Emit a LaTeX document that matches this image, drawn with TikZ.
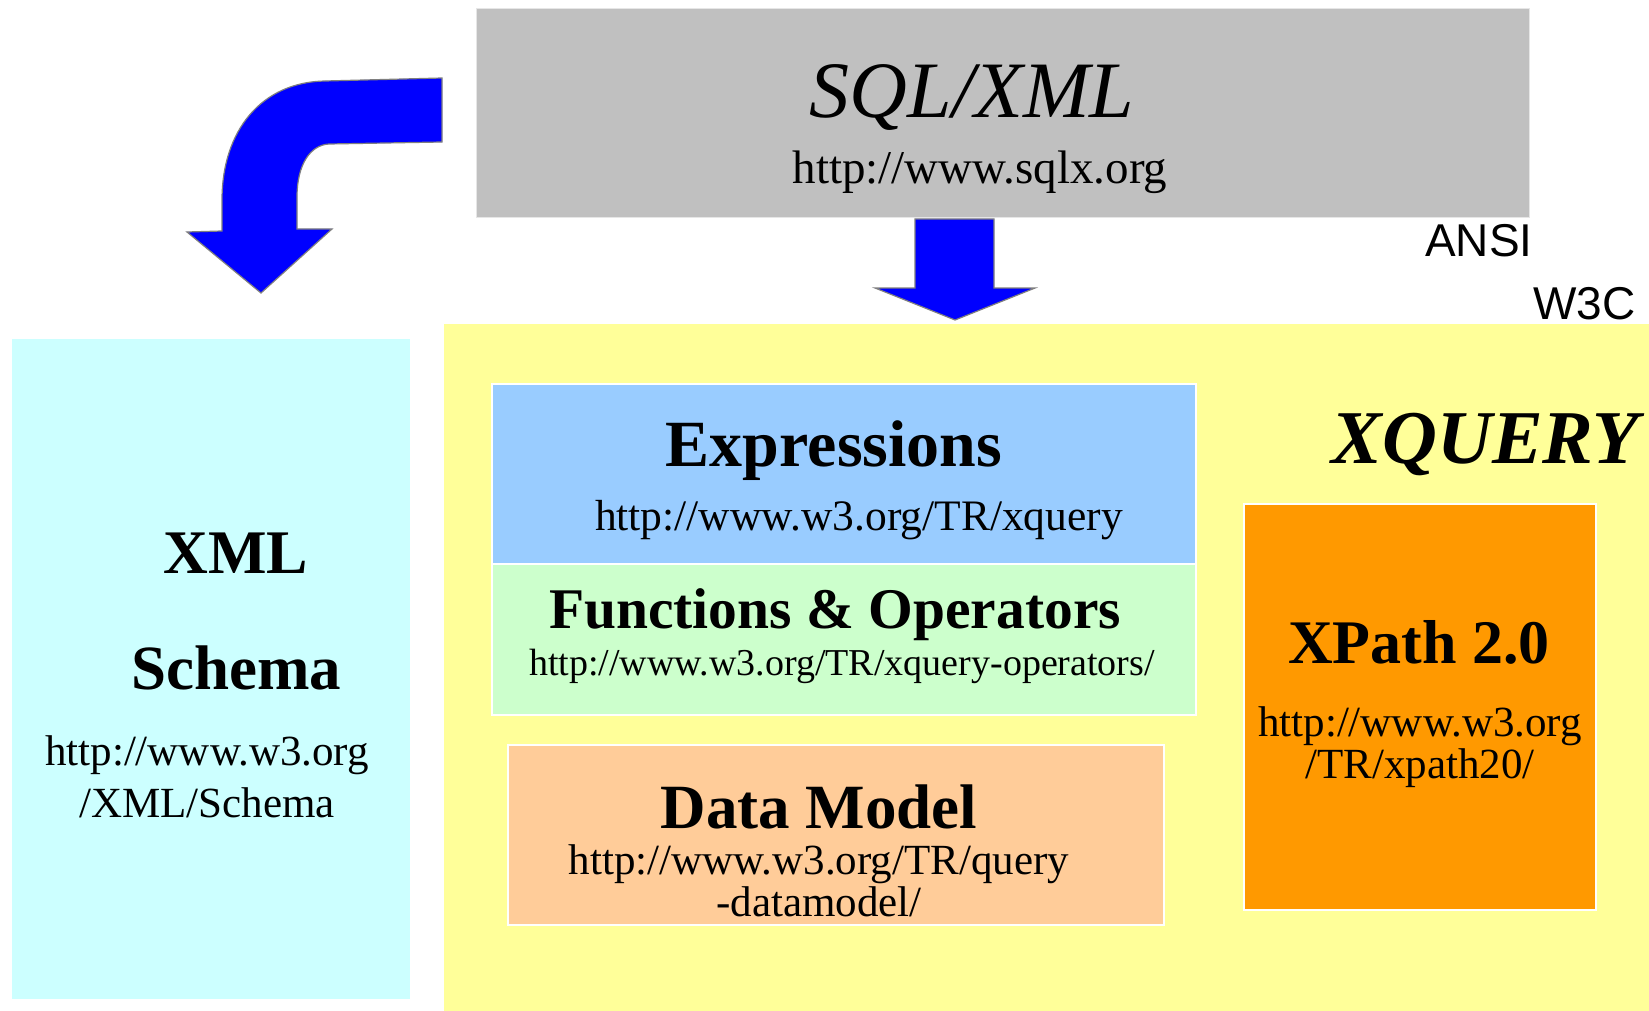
\documentclass[tikz,border=0pt]{standalone}
\usepackage{fontspec}
\setmainfont{Liberation Serif}
\newfontfamily\sansf{Liberation Sans}
\definecolor{arrblue}{HTML}{0000FF}
\definecolor{arredge}{HTML}{7F7F7F}
\definecolor{sqlgray}{HTML}{C0C0C0}
\definecolor{sqledge}{HTML}{E6E6E6}
\definecolor{cyanbg}{HTML}{CCFFFF}
\definecolor{yellowbg}{HTML}{FFFF99}
\definecolor{exprblue}{HTML}{99CCFF}
\definecolor{funcgreen}{HTML}{CCFFCC}
\definecolor{dmorange}{HTML}{FFCC99}
\definecolor{xporange}{HTML}{FF9900}
\tikzset{
  panel/.style={draw=white, line width=1.5pt, inner sep=0pt, anchor=north west},
  plainpanel/.style={draw=none, inner sep=0pt, anchor=north west},
  blockarrow/.style={fill=arrblue, draw=arredge, line width=1.2pt, line join=miter},
  txt/.style={anchor=base, inner sep=0pt, text=black},
  ttl/.style={txt, font=\fontsize{#1}{#1}\selectfont\bfseries},
  url/.style={txt, font=\fontsize{#1}{#1}\selectfont},
  lbl/.style={anchor=base west, inner sep=0pt, font=\fontsize{46}{46}\selectfont\sansf}
}
\begin{document}
\begin{tikzpicture}[x=1pt,y=-1pt]
\path[use as bounding box, fill=white] (0,0) rectangle (1649,1011);

% SQL/XML box
\node[plainpanel, draw=sqledge, line width=1pt, fill=sqlgray, minimum width=1053pt, minimum height=209pt] (sql) at (476,8) {};
\node[txt, font=\fontsize{80}{80}\selectfont\itshape] (sqlt) at (972,118) {SQL/XML};
\node[url=47] (sqlu) at (980,184) {http://www.sqlx.org};

% standards labels
\node[lbl] (ansi) at (1425,256) {ANSI};
\node[lbl] (w3c) at (1533,319) {W3C};

% XML Schema box
\node[plainpanel, fill=cyanbg, minimum width=398pt, minimum height=660pt] (xsd) at (12,339) {};
\node[ttl=62] (xsdt1) at (236,573) {XML};
\node[ttl=63] (xsdt2) at (236,689) {Schema};
\node[url=43] (xsdu1) at (207,765) {http://www.w3.org};
\node[url=43] (xsdu2) at (207,817) {/XML/Schema};

% XQuery area
\node[plainpanel, fill=yellowbg, minimum width=1205pt, minimum height=687pt] (xq) at (444,324) {};
\node[txt, font=\fontsize{76}{76}\selectfont\bfseries\itshape] (xqt) at (1485,463) {XQUERY};

% Expressions
\node[panel, fill=exprblue, minimum width=704pt, minimum height=180pt] (expr) at (491,383) {};
\node[ttl=66] (exprt) at (834,466) {Expressions};
\node[url=43.5] (expru) at (859,530) {http://www.w3.org/TR/xquery};

% Functions & Operators
\node[panel, fill=funcgreen, minimum width=704pt, minimum height=151pt] (func) at (491,563) {};
\node[ttl=57.5] (funct) at (835,628) {Functions \& Operators};
\node[url=38] (funcu) at (842,675) {http://www.w3.org/TR/xquery-operators/};

% Data Model
\node[panel, fill=dmorange, minimum width=656pt, minimum height=180pt] (dm) at (507,744) {};
\node[ttl=63] (dmt) at (819,828) {Data Model};
\node[url=43] (dmu1) at (819,874) {http://www.w3.org/TR/query};
\node[url=43] (dmu2) at (819,916) {-datamodel/};

% XPath 2.0
\node[panel, fill=xporange, minimum width=352pt, minimum height=406pt] (xp) at (1243,503) {};
\node[ttl=62] (xpt) at (1419,663) {XPath 2.0};
\node[url=43] (xpu1) at (1420,736) {http://www.w3.org};
\node[url=43] (xpu2) at (1420,778) {/TR/xpath20/};

% curved block arrow (SQL/XML -> XML Schema)
\draw[blockarrow] (442,78) -- (325,81)
  .. controls (262,82) and (222,130) .. (222,200)
  -- (222,231) -- (187,232) -- (261,293) -- (332,229) -- (297,229) -- (297,197)
  .. controls (297,165) and (310,145) .. (329,144)
  -- (442,142) -- cycle;

% straight block arrow (SQL/XML -> XQuery)
\draw[blockarrow] (915,219) -- (994,219) -- (994,288) -- (1035,288) -- (955,320)
  -- (875,288) -- (915,288) -- cycle;
\end{tikzpicture}
\end{document}
